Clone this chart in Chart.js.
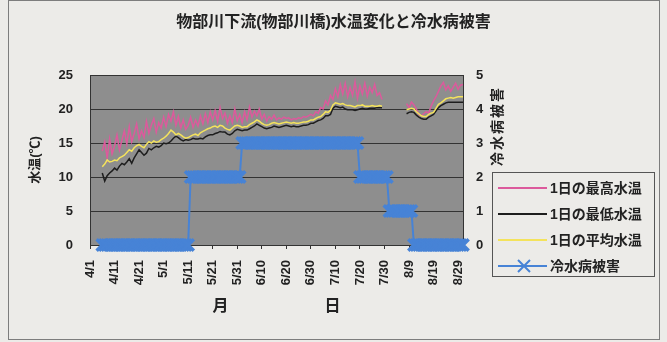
<!DOCTYPE html>
<html lang="ja">
<head>
<meta charset="utf-8">
<title>物部川下流(物部川橋)水温変化と冷水病被害</title>
<script src="https://cdn.jsdelivr.net/npm/chart.js@4.4.1/dist/chart.umd.min.js"></script>
<style>
  html, body { margin: 0; padding: 0; background: #ecebe8; }
  canvas { display: block; }
</style>
</head>
<body>
<canvas id="water-temp-chart" width="667" height="342"></canvas>
<script>
// daily categories 4/1 .. 8/31, a label is shown every 10 days
const monthDays = [[4, 30], [5, 31], [6, 30], [7, 31], [8, 31]];
const dayLabels = [];
monthDays.forEach(([m, n]) => {
  for (let d = 1; d <= n; d++) dayLabels.push(m + '/' + d);
});

// 1日の最高水温 (℃), no readings 4/1-4/5 and 7/30-8/8
const maxTemp = [
  null, null, null, null, null, 13.8, 15.2, 12.8, 15.6, 13.4,
  14.6, 16.2, 14.0, 15.4, 16.8, 14.8, 17.4, 15.2, 16.4, 17.8,
  15.6, 16.8, 15.8, 18.2, 16.4, 17.6, 18.6, 16.6, 18.0, 17.2,
  18.8, 17.4, 19.2, 18.2, 19.6, 17.6, 18.9, 17.2, 18.4, 17.0,
  17.6, 18.8, 17.3, 18.4, 17.5, 19.0, 17.8, 19.3, 18.0, 19.6,
  18.4, 19.8, 18.2, 20.2, 18.6, 19.4, 17.9, 19.0, 18.0, 20.0,
  18.3, 19.2, 18.0, 19.6, 18.4, 20.3, 18.8, 19.7, 19.0, 20.0,
  18.5, 19.2, 18.2, 18.9, 18.5, 19.1, 18.4, 18.7, 18.5, 18.8,
  18.6, 18.7, 18.4, 18.6, 18.5, 18.7, 18.6, 18.9, 18.8, 19.0,
  19.2, 19.0, 19.6, 19.4, 20.2, 20.0, 21.2, 20.6, 22.0, 21.4,
  23.0, 21.8, 23.6, 22.2, 23.8, 21.8, 23.2, 22.0, 24.0, 21.6,
  23.4, 22.2, 23.8, 21.9, 23.2, 22.4, 23.6, 22.0, 22.4, 21.4,
  null, null, null, null, null, null, null, null, null, 20.8,
  20.2, 21.0, 20.6, 20.0, 19.2, 19.0, 19.3, 19.6, 19.4, 20.4,
  21.2, 21.8, 22.6, 23.4, 23.9, 22.8, 23.4, 22.6, 23.2, 23.8,
  22.9, 23.5, 23.6
];

// 1日の最低水温 (℃)
const minTemp = [
  null, null, null, null, null, 10.6, 9.4, 10.2, 10.6, 10.9,
  11.3, 11.0, 11.6, 12.0, 11.8, 12.2, 12.7, 12.0, 12.8, 13.4,
  14.0, 13.6, 13.2, 13.5, 14.2, 14.0, 14.3, 14.5, 14.4, 14.6,
  15.0, 14.9, 15.0, 15.3, 15.7, 16.0, 15.8, 15.5, 15.3, 15.5,
  15.4, 15.5, 15.7, 15.6, 15.6, 15.7, 15.6, 15.9, 16.1, 16.2,
  16.2, 16.4, 16.5, 16.7, 16.6, 16.6, 16.3, 16.2, 16.4, 16.8,
  17.0, 16.9, 16.8, 16.9, 16.9, 17.1, 17.3, 17.5, 17.8, 17.6,
  17.4, 17.2, 17.1, 17.2, 17.3, 17.5, 17.4, 17.3, 17.4, 17.5,
  17.6, 17.5, 17.4, 17.5, 17.4, 17.4, 17.5, 17.6, 17.6, 17.7,
  17.9, 17.9, 18.1, 18.3, 18.4, 18.6, 19.0, 19.0, 19.2, 20.1,
  20.4, 20.3, 20.2, 20.3, 20.0, 19.9, 19.9, 19.9, 19.8, 19.9,
  20.0, 20.1, 20.0, 20.0, 20.1, 20.1, 20.1, 20.2, 20.2, 20.2,
  null, null, null, null, null, null, null, null, null, 19.3,
  19.5, 19.6, 19.5, 19.1, 18.8, 18.6, 18.5, 18.5, 18.8, 19.0,
  19.2, 19.7, 20.2, 20.5, 20.7, 20.9, 21.0, 21.0, 21.0, 21.0,
  21.0, 21.0, 21.0
];

// 1日の平均水温 (℃)
const meanTemp = [
  null, null, null, null, null, 11.5, 11.9, 12.5, 12.2, 12.3,
  12.5, 12.4, 12.8, 13.0, 13.2, 13.6, 14.0, 13.8, 14.3, 14.6,
  14.8, 14.5, 14.3, 14.8, 15.2, 15.0, 15.3, 15.1, 15.2, 15.5,
  15.7, 16.0, 16.4, 16.9, 16.6, 16.2, 16.4, 16.2, 15.9, 15.7,
  15.8, 16.0, 16.2, 16.3, 16.1, 16.5, 16.7, 16.9, 17.1, 17.2,
  17.4, 17.5, 17.3, 17.6, 17.5, 17.2, 17.0, 16.9, 17.2, 17.5,
  17.6, 17.5, 17.3, 17.4, 17.4, 17.7, 17.9, 18.1, 18.4, 18.2,
  17.9, 17.7, 17.6, 17.7, 17.9, 18.0, 17.9, 17.8, 17.9, 18.0,
  18.1, 18.0, 17.9, 18.0, 17.9, 17.9, 18.0, 18.1, 18.1, 18.2,
  18.4, 18.4, 18.6, 18.8, 18.9, 19.2, 19.6, 19.5, 19.8, 20.6,
  20.9, 20.8, 20.7, 20.8, 20.6, 20.5, 20.5, 20.4, 20.3, 20.5,
  20.5, 20.6, 20.4, 20.4, 20.4, 20.5, 20.4, 20.4, 20.5, 20.4,
  null, null, null, null, null, null, null, null, null, 19.9,
  20.0, 20.1, 20.0, 19.6, 19.3, 19.0, 18.9, 18.9, 19.2, 19.4,
  19.5, 20.1, 20.7, 20.9, 21.2, 21.5, 21.6, 21.7, 21.6, 21.7,
  21.8, 21.8, 21.8
];

// 冷水病被害 (0-5 scale, right axis)
const coldWaterDamage = [
  null, null, null, null, null, 0, 0, 0, 0, 0,
  0, 0, 0, 0, 0, 0, 0, 0, 0, 0,
  0, 0, 0, 0, 0, 0, 0, 0, 0, 0,
  0, 0, 0, 0, 0, 0, 0, 0, 0, 0,
  0, 2, 2, 2, 2, 2, 2, 2, 2, 2,
  2, 2, 2, 2, 2, 2, 2, 2, 2, 2,
  2, 2, 3, 3, 3, 3, 3, 3, 3, 3,
  3, 3, 3, 3, 3, 3, 3, 3, 3, 3,
  3, 3, 3, 3, 3, 3, 3, 3, 3, 3,
  3, 3, 3, 3, 3, 3, 3, 3, 3, 3,
  3, 3, 3, 3, 3, 3, 3, 3, 3, 3,
  2, 2, 2, 2, 2, 2, 2, 2, 2, 2,
  2, 2, 1, 1, 1, 1, 1, 1, 1, 1,
  1, 1, 0, 0, 0, 0, 0, 0, 0, 0,
  0, 0, 0, 0, 0, 0, 0, 0, 0, 0,
  0, 0, 0
];

const tempTicks = [0, 5, 10, 15, 20, 25];
const damageTicks = [0, 1, 2, 3, 4, 5];

const fontFamily = "'Liberation Sans', 'Noto Sans CJK JP', sans-serif";
const textColor = '#222';
const lineDark = '#333';
const damageBlue = '#4783d6';

Chart.defaults.font.family = fontFamily;
Chart.defaults.font.weight = 'bold';
Chart.defaults.color = textColor;

// page backdrop, outer frame and grey plot area
const backdrop = {
  id: 'backdrop',
  beforeDraw(chart) {
    const ctx = chart.ctx;
    const area = chart.chartArea;
    ctx.save();
    ctx.fillStyle = '#ecebe8';
    ctx.fillRect(0, 0, chart.width, chart.height);
    ctx.strokeStyle = '#7d7d7d';
    ctx.lineWidth = 1;
    ctx.strokeRect(8.5, 0.5, 651, 339);
    ctx.fillStyle = '#8e8e8e';
    ctx.fillRect(area.left, area.top, area.right - area.left, area.bottom - area.top);
    ctx.restore();
  }
};

// right axis title reads bottom-to-top like the left one
const rightAxisTitle = {
  id: 'rightAxisTitle',
  afterDraw(chart) {
    const ctx = chart.ctx;
    const area = chart.chartArea;
    ctx.save();
    ctx.translate(498, (area.top + area.bottom) / 2 - 34);
    ctx.rotate(-Math.PI / 2);
    ctx.font = 'bold 14px ' + fontFamily;
    ctx.letterSpacing = '2px';
    ctx.fillStyle = textColor;
    ctx.textAlign = 'center';
    ctx.textBaseline = 'middle';
    ctx.fillText('冷水病被害', 0, 0);
    ctx.restore();
  }
};

// boxed legend with line samples
const legendBox = {
  id: 'legendBox',
  afterDraw(chart) {
    const ctx = chart.ctx;
    ctx.save();
    ctx.strokeStyle = '#555';
    ctx.lineWidth = 1;
    ctx.strokeRect(492.5, 172.5, 162, 104);
    ctx.font = 'bold 14px ' + fontFamily;
    ctx.textBaseline = 'middle';
    ctx.fillStyle = textColor;
    chart.data.datasets.forEach((ds, i) => {
      const y = 188 + i * 26;
      ctx.strokeStyle = ds.borderColor;
      ctx.lineWidth = 2;
      ctx.beginPath();
      ctx.moveTo(498, y);
      ctx.lineTo(547, y);
      ctx.stroke();
      if (ds.pointStyle === 'crossRot') {
        ctx.lineWidth = 2;
        ctx.beginPath();
        ctx.moveTo(518, y - 6);
        ctx.lineTo(530, y + 6);
        ctx.moveTo(518, y + 6);
        ctx.lineTo(530, y - 6);
        ctx.stroke();
      }
      ctx.fillText(ds.label, 550, y + 1);
    });
    ctx.restore();
  }
};

const ctx = document.getElementById('water-temp-chart');

new Chart(ctx, {
  type: 'line',
  data: {
    labels: dayLabels,
    datasets: [
      {
        label: '1日の最高水温',
        data: maxTemp,
        borderColor: '#dc5a9c',
        borderWidth: 1.5,
        pointRadius: 0,
        order: 3
      },
      {
        label: '1日の最低水温',
        data: minTemp,
        borderColor: '#1e1e1e',
        borderWidth: 1.5,
        pointRadius: 0,
        order: 2
      },
      {
        label: '1日の平均水温',
        data: meanTemp,
        borderColor: '#f4e35c',
        borderWidth: 1.5,
        pointRadius: 0,
        order: 1
      },
      {
        label: '冷水病被害',
        data: coldWaterDamage,
        yAxisID: 'y1',
        borderColor: damageBlue,
        backgroundColor: damageBlue,
        borderWidth: 2,
        pointStyle: 'crossRot',
        pointRadius: 8,
        pointBorderWidth: 3.5,
        pointBorderColor: damageBlue,
        clip: false,
        order: 4
      }
    ]
  },
  plugins: [backdrop, rightAxisTitle, legendBox],
  options: {
    responsive: false,
    animation: false,
    layout: { padding: 0 },
    plugins: {
      legend: { display: false },
      tooltip: { enabled: false },
      title: {
        display: true,
        text: '物部川下流(物部川橋)水温変化と冷水病被害',
        color: textColor,
        font: { size: 16, weight: 'bold' },
        padding: { top: 13, bottom: 42.8 }
      }
    },
    scales: {
      x: {
        type: 'category',
        offset: false,
        afterFit: scale => { scale.height = 97; },
        grid: {
          drawOnChartArea: false,
          tickLength: 4,
          color: c => (c.index % 10 === 0 ? lineDark : 'transparent')
        },
        border: { color: lineDark },
        ticks: {
          autoSkip: false,
          minRotation: 90,
          maxRotation: 90,
          padding: 11,
          font: { size: 13, weight: 'bold' },
          callback: function (value, index) {
            return index % 10 === 0 ? this.getLabelForValue(value) : '';
          }
        },
        title: {
          display: true,
          text: '月\u3000\u3000\u3000\u3000\u3000\u3000日',
          font: { size: 16, weight: 'bold' },
          padding: { top: 0, bottom: 25.4 }
        }
      },
      y: {
        position: 'left',
        min: 0,
        max: 25,
        afterFit: scale => { scale.width = 90; },
        afterBuildTicks: scale => { scale.ticks = tempTicks.map(v => ({ value: v })); },
        grid: { color: lineDark, drawTicks: false },
        border: { color: lineDark },
        ticks: { padding: 17, font: { size: 13, weight: 'bold' } },
        title: {
          display: true,
          text: '水温(℃)',
          font: { size: 13, weight: 'bold' },
          padding: { top: 27.2, bottom: 0 }
        }
      },
      y1: {
        position: 'right',
        min: 0,
        max: 5,
        afterFit: scale => { scale.width = 204; },
        afterBuildTicks: scale => { scale.ticks = damageTicks.map(v => ({ value: v })); },
        grid: { display: false, drawTicks: false },
        border: { color: lineDark },
        ticks: { padding: 13, font: { size: 13, weight: 'bold' } }
      }
    }
  }
});
</script>
</body>
</html>
